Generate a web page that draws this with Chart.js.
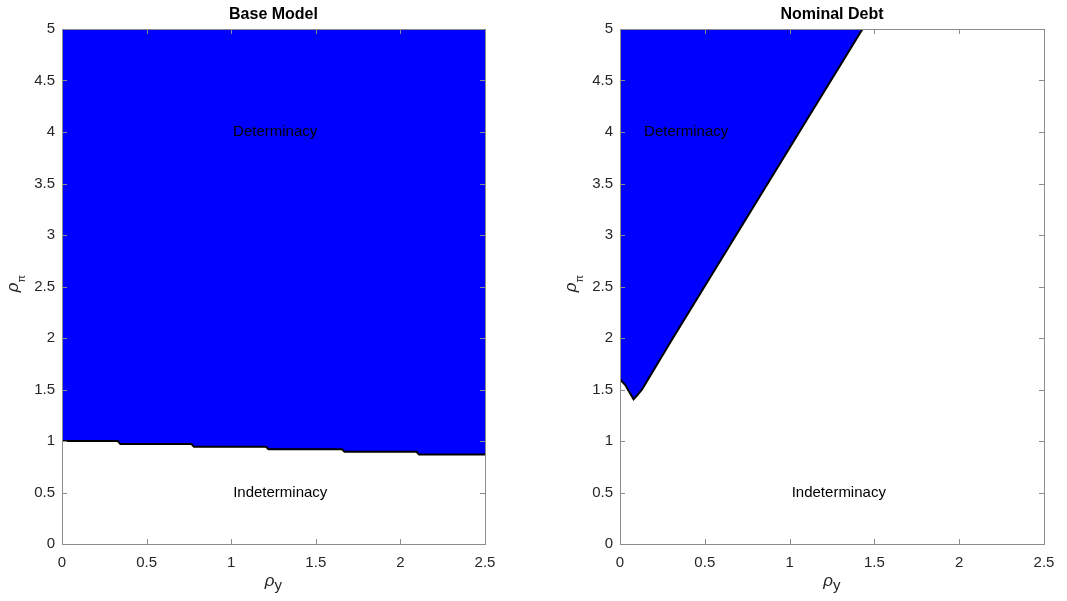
<!DOCTYPE html>
<html><head><meta charset="utf-8">
<script src="https://cdn.jsdelivr.net/npm/chart.js@4/dist/chart.umd.min.js"></script>
<style>
html,body{margin:0;padding:0;background:#fff;}
#c1{position:absolute;left:0;top:0;}
#c2{position:absolute;left:533px;top:0;}
</style></head>
<body>
<canvas id="c1" width="533" height="601"></canvas>
<canvas id="c2" width="534" height="601"></canvas>
<script>
const xTicks = [0, 0.5, 1, 1.5, 2, 2.5];
const yTicks = [0, 0.5, 1, 1.5, 2, 2.5, 3, 3.5, 4, 4.5, 5];
const titles = ["Base Model", "Nominal Debt"];
const regionLabels = ["Determinacy", "Indeterminacy"];

// Base model boundary (rho_pi threshold vs rho_y)
const baseX = [0, 0.33, 0.345, 0.765, 0.78, 1.205, 1.22, 1.655, 1.67, 2.095, 2.11, 2.5];
const baseY = [1.0, 1.0, 0.97, 0.97, 0.945, 0.945, 0.92, 0.92, 0.895, 0.895, 0.87, 0.87];
// Nominal debt boundary
const debtX = [0, 0.03, 0.06, 0.08, 0.10, 0.13, 0.305, 1.43];
const debtY = [1.6, 1.545, 1.46, 1.405, 1.44, 1.5, 1.98, 5];

// label positions [x, y] per panel
const detPos = [[1.26, 4], [0.39, 4]];
const indetPos = [[1.29, 0.5], [1.29, 0.5]];

const FONT = '"Liberation Sans", Arial, Helvetica, sans-serif';
const AX = '#8c8c8c';
const TXT = '#262626';

function decor(panel) {
  return {
    id: 'decor' + panel,
    afterDatasetsDraw(chart) {
      const ctx = chart.ctx, a = chart.chartArea;
      const xs = chart.scales.x, ys = chart.scales.y;
      ctx.save();
      // region labels
      ctx.fillStyle = '#000';
      ctx.font = '15px ' + FONT;
      ctx.textAlign = 'center'; ctx.textBaseline = 'middle';
      ctx.fillText(regionLabels[0], xs.getPixelForValue(detPos[panel][0]), ys.getPixelForValue(detPos[panel][1]));
      ctx.fillText(regionLabels[1], xs.getPixelForValue(indetPos[panel][0]), ys.getPixelForValue(indetPos[panel][1]));
      // box
      ctx.strokeStyle = AX; ctx.lineWidth = 1;
      ctx.strokeRect(Math.round(a.left) + 0.5, Math.round(a.top) + 0.5, Math.round(a.right - a.left), Math.round(a.bottom - a.top));
      // inward ticks
      const tl = 5;
      ctx.beginPath();
      xTicks.forEach(v => {
        const px = Math.round(xs.getPixelForValue(v)) + 0.5;
        ctx.moveTo(px, a.bottom); ctx.lineTo(px, a.bottom - tl);
        ctx.moveTo(px, a.top); ctx.lineTo(px, a.top + tl);
      });
      yTicks.forEach(v => {
        const py = Math.round(ys.getPixelForValue(v)) + 0.5;
        ctx.moveTo(a.left, py); ctx.lineTo(a.left + tl, py);
        ctx.moveTo(a.right, py); ctx.lineTo(a.right - tl, py);
      });
      ctx.stroke();
      // title
      ctx.fillStyle = '#000';
      ctx.font = 'bold 16px ' + FONT;
      ctx.textAlign = 'center'; ctx.textBaseline = 'middle';
      ctx.fillText(titles[panel], (a.left + a.right) / 2, 15);
      // x axis title rho_y
      const cx = (a.left + a.right) / 2;
      ctx.fillStyle = TXT;
      ctx.textBaseline = 'alphabetic';
      ctx.font = 'italic 17px ' + FONT;
      ctx.textAlign = 'right';
      ctx.fillText('ρ', cx + 1, 586);
      ctx.font = '15px ' + FONT;
      ctx.textAlign = 'left';
      ctx.fillText('y', cx + 1, 590);
      // y axis title rho_pi (rotated)
      const cy = (a.top + a.bottom) / 2 - 4;
      ctx.translate(a.left - 44, cy);
      ctx.rotate(-Math.PI / 2);
      ctx.font = 'italic 17px ' + FONT;
      ctx.textAlign = 'right';
      ctx.fillText('ρ', 0, 0);
      ctx.font = '11px ' + FONT;
      ctx.textAlign = 'left';
      ctx.fillText('π', 0, 7);
      ctx.restore();
    }
  };
}

function makeChart(id, panel, xs, ys, leftW, padRight) {
  const pts = xs.map((x, i) => ({x: x, y: ys[i]}));
  return new Chart(document.getElementById(id), {
    type: 'line',
    data: {
      datasets: [{
        data: pts,
        borderColor: '#000',
        borderWidth: 2,
        backgroundColor: '#0000ff',
        fill: 'end',
        pointRadius: 0,
        tension: 0
      }]
    },
    options: {
      responsive: false,
      animation: false,
      devicePixelRatio: 1,
      layout: {padding: {left: 0, right: padRight, top: 29, bottom: 0}},
      plugins: {legend: {display: false}, tooltip: {enabled: false}},
      scales: {
        x: {
          type: 'linear', min: 0, max: 2.5,
          afterBuildTicks: s => { s.ticks = xTicks.map(v => ({value: v})); },
          afterFit: s => { s.height = 57; },
          grid: {display: false, drawTicks: false}, border: {display: false},
          ticks: {color: TXT, font: {family: FONT, size: 15}, padding: 10, maxRotation: 0,
                  callback: v => String(v)}
        },
        y: {
          type: 'linear', min: 0, max: 5,
          afterBuildTicks: s => { s.ticks = yTicks.map(v => ({value: v})); },
          afterFit: s => { s.width = leftW; },
          grid: {display: false, drawTicks: false}, border: {display: false},
          ticks: {color: TXT, font: {family: FONT, size: 15}, padding: 7,
                  callback: v => String(v)}
        }
      }
    },
    plugins: [decor(panel)]
  });
}

makeChart('c1', 0, baseX, baseY, 62, 48);
makeChart('c2', 1, debtX, debtY, 87, 23);
</script>
</body></html>
